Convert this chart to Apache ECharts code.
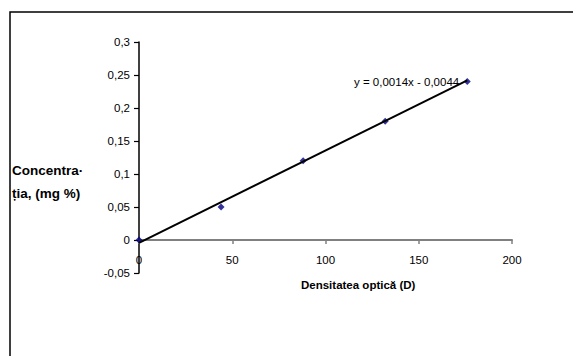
<!DOCTYPE html>
<html>
<head>
<meta charset="utf-8">
<script src="https://cdn.jsdelivr.net/npm/echarts@6/dist/echarts.min.js"></script>
<style>
  html, body { margin: 0; padding: 0; background: #fff; }
  #chart { width: 573px; height: 356px; }
</style>
</head>
<body>
<div id="chart"></div>
<script>
// absorbance readings and concentration
const densitate = [0, 44, 88, 132, 176];
const concentratie = [0, 0.05, 0.12, 0.18, 0.24];
// linear trendline as printed on the chart
const panta = 0.0014;
const intercept = -0.0044;
const ecuatie = 'y = 0,0014x - 0,0044';
const xTitle = 'Densitatea optică (D)';
const yTitle = ['Concentra·', 'ția, (mg %)'];

const font = "'Liberation Sans', Arial, sans-serif";
const fmt = (v) => String(Math.round(v * 100) / 100).replace('.', ',');

const yMin = -0.05, yMax = 0.3;
const gridTop = 42, gridBottom = 83, chartH = 356;
// move the x axis up to y = 0 (labels should follow the line)
const xAxisOffset = -((0 - yMin) / (yMax - yMin)) * (chartH - gridTop - gridBottom);

const xFirst = densitate[0];
const xLast = densitate[densitate.length - 1];
const trendData = [
  [xFirst, intercept + panta * xFirst],
  {
    value: [xLast, intercept + panta * xLast],
    label: {
      show: true,
      position: 'left',
      distance: 8,
      offset: [0, 2],
      formatter: ecuatie,
      color: '#000',
      fontSize: 11.5,
      fontFamily: font
    }
  }
];

const chart = echarts.init(document.getElementById('chart'), null, { renderer: 'svg' });

const option = {
  animation: false,
  backgroundColor: '#fff',
  grid: { left: 139, right: 61, top: gridTop, bottom: gridBottom },
  xAxis: {
    type: 'value',
    min: 0,
    max: 200,
    interval: 50,
    offset: xAxisOffset,
    splitLine: { show: false },
    axisLine: { onZero: false, lineStyle: { color: '#808080', width: 2 } },
    axisTick: { length: 4, lineStyle: { color: '#808080', width: 1.5 } },
    axisLabel: { margin: 14, color: '#000', fontSize: 11.5, fontFamily: font }
  },
  yAxis: {
    type: 'value',
    min: yMin,
    max: yMax,
    interval: 0.05,
    splitLine: { show: false },
    axisLine: { show: true, onZero: false, lineStyle: { color: '#000', width: 1.5 } },
    axisTick: { show: true, length: 5, lineStyle: { color: '#000', width: 1.2 } },
    axisLabel: { margin: 9, color: '#000', fontSize: 11.5, fontFamily: font, formatter: fmt }
  },
  graphic: [
    {
      type: 'rect',
      shape: { x: 10, y: 12, width: 700, height: 500 },
      style: { fill: 'none', stroke: '#000', lineWidth: 1.5 },
      silent: true
    },
    {
      type: 'text',
      left: 12,
      top: 159,
      style: {
        text: yTitle.join('\n'),
        font: 'bold 13.5px ' + font,
        lineHeight: 23,
        fill: '#000'
      }
    },
    {
      type: 'text',
      left: 301,
      top: 279,
      style: {
        text: xTitle,
        font: 'bold 11.5px ' + font,
        fill: '#000'
      }
    }
  ],
  series: [
    {
      name: 'trend',
      type: 'line',
      data: trendData,
      showSymbol: true,
      symbol: 'circle',
      symbolSize: 0.1,
      itemStyle: { color: '#000' },
      lineStyle: { color: '#000', width: 2 },
      z: 3
    },
    {
      name: 'puncte',
      type: 'scatter',
      data: densitate.map((x, i) => [x, concentratie[i]]),
      symbol: 'diamond',
      symbolSize: 7,
      itemStyle: { color: '#000080' },
      z: 2
    }
  ]
};

chart.setOption(option);
</script>
</body>
</html>
